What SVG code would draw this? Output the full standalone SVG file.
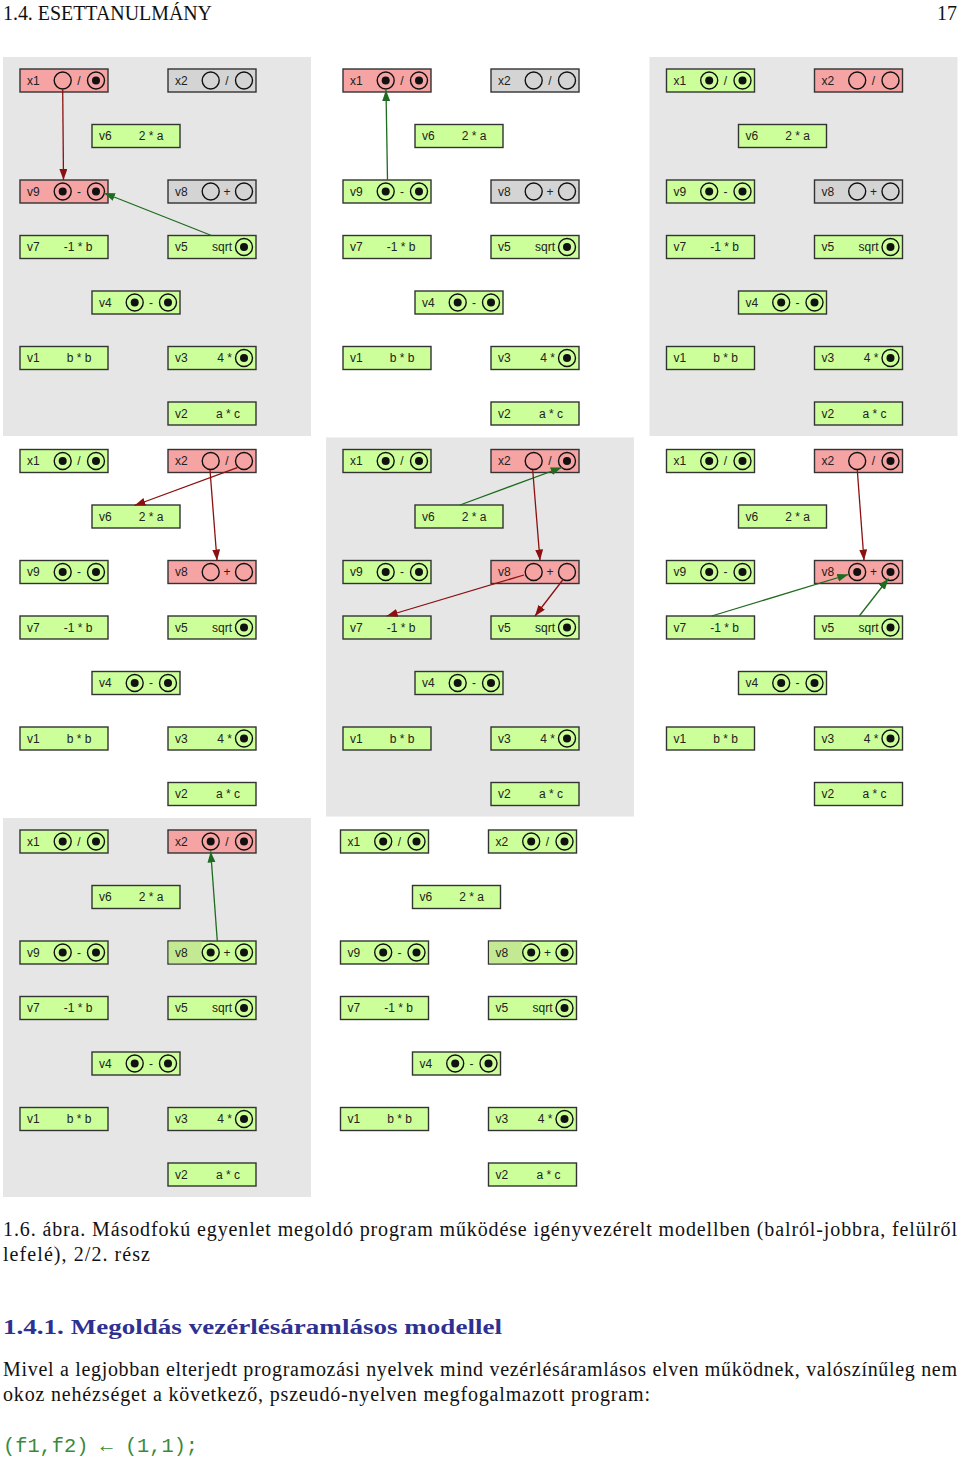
<svg xmlns="http://www.w3.org/2000/svg" xmlns:xlink="http://www.w3.org/1999/xlink" width="960" height="1462" viewBox="0 0 960 1462">
<style>
.bg{fill:#e6e6e6}
.nd rect{stroke:#333;stroke-width:1.4}
.nd .g{fill:#ccff99}
.nd .r{fill:#f5a3a3}
.nd .n{fill:#d4d4d4}
.nd .dk{fill:#c3e992;stroke:none}
.nd text{font-family:"Liberation Sans",Arial,Helvetica,sans-serif;font-size:12px;fill:#222}
.nd .m{text-anchor:middle}
.nd .e{text-anchor:end}
.ring{fill:none;stroke:#111;stroke-width:1.4}
.dot{fill:#111}
.cr{stroke:#8b1010;stroke-width:1.3;fill:none;marker-end:url(#ar)}
.cg{stroke:#1f6b1f;stroke-width:1.3;fill:none;marker-end:url(#ag)}
.body{font-family:"Liberation Serif","Times New Roman",serif;font-size:20px;fill:#111}
</style>
<defs>
<circle id="o" r="8.5" class="ring"/>
<g id="f"><circle r="8.5" class="ring"/><circle r="4" class="dot"/></g>
<marker id="ar" markerUnits="userSpaceOnUse" markerWidth="12" markerHeight="10" refX="11" refY="4" orient="auto"><path d="M0,0 L11,4 L0,8 Z" fill="#8b1010"/></marker>
<marker id="ag" markerUnits="userSpaceOnUse" markerWidth="12" markerHeight="10" refX="11" refY="4" orient="auto"><path d="M0,0 L11,4 L0,8 Z" fill="#1f6b1f"/></marker>
</defs>
<rect width="960" height="1462" fill="#fff"/>

<!-- Panel 1 -->
<g id="panel1">
<rect class="bg" x="3" y="57" width="308" height="379"/>
<g id="p1-x1" class="nd" transform="translate(20,69)"><rect class="r" width="88" height="23"/><text x="7" y="15.5">x1</text><use href="#o" x="42.7" y="11.5"/><text class="m" x="59" y="15.5">/</text><use href="#f" x="76" y="11.5"/></g>
<g id="p1-x2" class="nd" transform="translate(168,69)"><rect class="n" width="88" height="23"/><text x="7" y="15.5">x2</text><use href="#o" x="42.7" y="11.5"/><text class="m" x="59" y="15.5">/</text><use href="#o" x="76" y="11.5"/></g>
<g id="p1-v6" class="nd" transform="translate(92,124.5)"><rect class="g" width="88" height="23"/><text x="7" y="15.5">v6</text><text class="m" x="59" y="15.5">2 * a</text></g>
<g id="p1-v9" class="nd" transform="translate(20,180)"><rect class="r" width="88" height="23"/><text x="7" y="15.5">v9</text><use href="#f" x="42.7" y="11.5"/><text class="m" x="59" y="15.5">-</text><use href="#f" x="76" y="11.5"/></g>
<g id="p1-v8" class="nd" transform="translate(168,180)"><rect class="n" width="88" height="23"/><text x="7" y="15.5">v8</text><use href="#o" x="42.7" y="11.5"/><text class="m" x="59" y="15.5">+</text><use href="#o" x="76" y="11.5"/></g>
<g id="p1-v7" class="nd" transform="translate(20,235.5)"><rect class="g" width="88" height="23"/><text x="7" y="15.5">v7</text><text class="m" x="58" y="15.5">-1 * b</text></g>
<g id="p1-v5" class="nd" transform="translate(168,235.5)"><rect class="g" width="88" height="23"/><text x="7" y="15.5">v5</text><text class="e" x="64" y="15.5">sqrt</text><use href="#f" x="76" y="11.5"/></g>
<g id="p1-v4" class="nd" transform="translate(92,291)"><rect class="g" width="88" height="23"/><text x="7" y="15.5">v4</text><use href="#f" x="42.7" y="11.5"/><text class="m" x="59" y="15.5">-</text><use href="#f" x="76" y="11.5"/></g>
<g id="p1-v1" class="nd" transform="translate(20,346.5)"><rect class="g" width="88" height="23"/><text x="7" y="15.5">v1</text><text class="m" x="59" y="15.5">b * b</text></g>
<g id="p1-v3" class="nd" transform="translate(168,346.5)"><rect class="g" width="88" height="23"/><text x="7" y="15.5">v3</text><text class="e" x="64" y="15.5">4 *</text><use href="#f" x="76" y="11.5"/></g>
<g id="p1-v2" class="nd" transform="translate(168,402)"><rect class="g" width="88" height="23"/><text x="7" y="15.5">v2</text><text class="m" x="60" y="15.5">a * c</text></g>
</g>

<!-- Panel 2 -->
<g id="panel2" transform="translate(323,0)">
<g id="p2-x1" class="nd" transform="translate(20,69)"><rect class="r" width="88" height="23"/><text x="7" y="15.5">x1</text><use href="#f" x="42.7" y="11.5"/><text class="m" x="59" y="15.5">/</text><use href="#f" x="76" y="11.5"/></g>
<g id="p2-x2" class="nd" transform="translate(168,69)"><rect class="n" width="88" height="23"/><text x="7" y="15.5">x2</text><use href="#o" x="42.7" y="11.5"/><text class="m" x="59" y="15.5">/</text><use href="#o" x="76" y="11.5"/></g>
<g id="p2-v6" class="nd" transform="translate(92,124.5)"><rect class="g" width="88" height="23"/><text x="7" y="15.5">v6</text><text class="m" x="59" y="15.5">2 * a</text></g>
<g id="p2-v9" class="nd" transform="translate(20,180)"><rect class="g" width="88" height="23"/><text x="7" y="15.5">v9</text><use href="#f" x="42.7" y="11.5"/><text class="m" x="59" y="15.5">-</text><use href="#f" x="76" y="11.5"/></g>
<g id="p2-v8" class="nd" transform="translate(168,180)"><rect class="n" width="88" height="23"/><text x="7" y="15.5">v8</text><use href="#o" x="42.7" y="11.5"/><text class="m" x="59" y="15.5">+</text><use href="#o" x="76" y="11.5"/></g>
<g id="p2-v7" class="nd" transform="translate(20,235.5)"><rect class="g" width="88" height="23"/><text x="7" y="15.5">v7</text><text class="m" x="58" y="15.5">-1 * b</text></g>
<g id="p2-v5" class="nd" transform="translate(168,235.5)"><rect class="g" width="88" height="23"/><text x="7" y="15.5">v5</text><text class="e" x="64" y="15.5">sqrt</text><use href="#f" x="76" y="11.5"/></g>
<g id="p2-v4" class="nd" transform="translate(92,291)"><rect class="g" width="88" height="23"/><text x="7" y="15.5">v4</text><use href="#f" x="42.7" y="11.5"/><text class="m" x="59" y="15.5">-</text><use href="#f" x="76" y="11.5"/></g>
<g id="p2-v1" class="nd" transform="translate(20,346.5)"><rect class="g" width="88" height="23"/><text x="7" y="15.5">v1</text><text class="m" x="59" y="15.5">b * b</text></g>
<g id="p2-v3" class="nd" transform="translate(168,346.5)"><rect class="g" width="88" height="23"/><text x="7" y="15.5">v3</text><text class="e" x="64" y="15.5">4 *</text><use href="#f" x="76" y="11.5"/></g>
<g id="p2-v2" class="nd" transform="translate(168,402)"><rect class="g" width="88" height="23"/><text x="7" y="15.5">v2</text><text class="m" x="60" y="15.5">a * c</text></g>
</g>

<!-- Panel 3 -->
<g id="panel3" transform="translate(646.5,0)">
<rect class="bg" x="3" y="57" width="308" height="379"/>
<g id="p3-x1" class="nd" transform="translate(20,69)"><rect class="g" width="88" height="23"/><text x="7" y="15.5">x1</text><use href="#f" x="42.7" y="11.5"/><text class="m" x="59" y="15.5">/</text><use href="#f" x="76" y="11.5"/></g>
<g id="p3-x2" class="nd" transform="translate(168,69)"><rect class="r" width="88" height="23"/><text x="7" y="15.5">x2</text><use href="#o" x="42.7" y="11.5"/><text class="m" x="59" y="15.5">/</text><use href="#o" x="76" y="11.5"/></g>
<g id="p3-v6" class="nd" transform="translate(92,124.5)"><rect class="g" width="88" height="23"/><text x="7" y="15.5">v6</text><text class="m" x="59" y="15.5">2 * a</text></g>
<g id="p3-v9" class="nd" transform="translate(20,180)"><rect class="g" width="88" height="23"/><text x="7" y="15.5">v9</text><use href="#f" x="42.7" y="11.5"/><text class="m" x="59" y="15.5">-</text><use href="#f" x="76" y="11.5"/></g>
<g id="p3-v8" class="nd" transform="translate(168,180)"><rect class="n" width="88" height="23"/><text x="7" y="15.5">v8</text><use href="#o" x="42.7" y="11.5"/><text class="m" x="59" y="15.5">+</text><use href="#o" x="76" y="11.5"/></g>
<g id="p3-v7" class="nd" transform="translate(20,235.5)"><rect class="g" width="88" height="23"/><text x="7" y="15.5">v7</text><text class="m" x="58" y="15.5">-1 * b</text></g>
<g id="p3-v5" class="nd" transform="translate(168,235.5)"><rect class="g" width="88" height="23"/><text x="7" y="15.5">v5</text><text class="e" x="64" y="15.5">sqrt</text><use href="#f" x="76" y="11.5"/></g>
<g id="p3-v4" class="nd" transform="translate(92,291)"><rect class="g" width="88" height="23"/><text x="7" y="15.5">v4</text><use href="#f" x="42.7" y="11.5"/><text class="m" x="59" y="15.5">-</text><use href="#f" x="76" y="11.5"/></g>
<g id="p3-v1" class="nd" transform="translate(20,346.5)"><rect class="g" width="88" height="23"/><text x="7" y="15.5">v1</text><text class="m" x="59" y="15.5">b * b</text></g>
<g id="p3-v3" class="nd" transform="translate(168,346.5)"><rect class="g" width="88" height="23"/><text x="7" y="15.5">v3</text><text class="e" x="64" y="15.5">4 *</text><use href="#f" x="76" y="11.5"/></g>
<g id="p3-v2" class="nd" transform="translate(168,402)"><rect class="g" width="88" height="23"/><text x="7" y="15.5">v2</text><text class="m" x="60" y="15.5">a * c</text></g>
</g>

<!-- Panel 4 -->
<g id="panel4" transform="translate(0,380.5)">
<g id="p4-x1" class="nd" transform="translate(20,69)"><rect class="g" width="88" height="23"/><text x="7" y="15.5">x1</text><use href="#f" x="42.7" y="11.5"/><text class="m" x="59" y="15.5">/</text><use href="#f" x="76" y="11.5"/></g>
<g id="p4-x2" class="nd" transform="translate(168,69)"><rect class="r" width="88" height="23"/><text x="7" y="15.5">x2</text><use href="#o" x="42.7" y="11.5"/><text class="m" x="59" y="15.5">/</text><use href="#o" x="76" y="11.5"/></g>
<g id="p4-v6" class="nd" transform="translate(92,124.5)"><rect class="g" width="88" height="23"/><text x="7" y="15.5">v6</text><text class="m" x="59" y="15.5">2 * a</text></g>
<g id="p4-v9" class="nd" transform="translate(20,180)"><rect class="g" width="88" height="23"/><text x="7" y="15.5">v9</text><use href="#f" x="42.7" y="11.5"/><text class="m" x="59" y="15.5">-</text><use href="#f" x="76" y="11.5"/></g>
<g id="p4-v8" class="nd" transform="translate(168,180)"><rect class="r" width="88" height="23"/><text x="7" y="15.5">v8</text><use href="#o" x="42.7" y="11.5"/><text class="m" x="59" y="15.5">+</text><use href="#o" x="76" y="11.5"/></g>
<g id="p4-v7" class="nd" transform="translate(20,235.5)"><rect class="g" width="88" height="23"/><text x="7" y="15.5">v7</text><text class="m" x="58" y="15.5">-1 * b</text></g>
<g id="p4-v5" class="nd" transform="translate(168,235.5)"><rect class="g" width="88" height="23"/><text x="7" y="15.5">v5</text><text class="e" x="64" y="15.5">sqrt</text><use href="#f" x="76" y="11.5"/></g>
<g id="p4-v4" class="nd" transform="translate(92,291)"><rect class="g" width="88" height="23"/><text x="7" y="15.5">v4</text><use href="#f" x="42.7" y="11.5"/><text class="m" x="59" y="15.5">-</text><use href="#f" x="76" y="11.5"/></g>
<g id="p4-v1" class="nd" transform="translate(20,346.5)"><rect class="g" width="88" height="23"/><text x="7" y="15.5">v1</text><text class="m" x="59" y="15.5">b * b</text></g>
<g id="p4-v3" class="nd" transform="translate(168,346.5)"><rect class="g" width="88" height="23"/><text x="7" y="15.5">v3</text><text class="e" x="64" y="15.5">4 *</text><use href="#f" x="76" y="11.5"/></g>
<g id="p4-v2" class="nd" transform="translate(168,402)"><rect class="g" width="88" height="23"/><text x="7" y="15.5">v2</text><text class="m" x="60" y="15.5">a * c</text></g>
</g>

<!-- Panel 5 -->
<g id="panel5" transform="translate(323,380.5)">
<rect class="bg" x="3" y="57" width="308" height="379"/>
<g id="p5-x1" class="nd" transform="translate(20,69)"><rect class="g" width="88" height="23"/><text x="7" y="15.5">x1</text><use href="#f" x="42.7" y="11.5"/><text class="m" x="59" y="15.5">/</text><use href="#f" x="76" y="11.5"/></g>
<g id="p5-x2" class="nd" transform="translate(168,69)"><rect class="r" width="88" height="23"/><text x="7" y="15.5">x2</text><use href="#o" x="42.7" y="11.5"/><text class="m" x="59" y="15.5">/</text><use href="#f" x="76" y="11.5"/></g>
<g id="p5-v6" class="nd" transform="translate(92,124.5)"><rect class="g" width="88" height="23"/><text x="7" y="15.5">v6</text><text class="m" x="59" y="15.5">2 * a</text></g>
<g id="p5-v9" class="nd" transform="translate(20,180)"><rect class="g" width="88" height="23"/><text x="7" y="15.5">v9</text><use href="#f" x="42.7" y="11.5"/><text class="m" x="59" y="15.5">-</text><use href="#f" x="76" y="11.5"/></g>
<g id="p5-v8" class="nd" transform="translate(168,180)"><rect class="r" width="88" height="23"/><text x="7" y="15.5">v8</text><use href="#o" x="42.7" y="11.5"/><text class="m" x="59" y="15.5">+</text><use href="#o" x="76" y="11.5"/></g>
<g id="p5-v7" class="nd" transform="translate(20,235.5)"><rect class="g" width="88" height="23"/><text x="7" y="15.5">v7</text><text class="m" x="58" y="15.5">-1 * b</text></g>
<g id="p5-v5" class="nd" transform="translate(168,235.5)"><rect class="g" width="88" height="23"/><text x="7" y="15.5">v5</text><text class="e" x="64" y="15.5">sqrt</text><use href="#f" x="76" y="11.5"/></g>
<g id="p5-v4" class="nd" transform="translate(92,291)"><rect class="g" width="88" height="23"/><text x="7" y="15.5">v4</text><use href="#f" x="42.7" y="11.5"/><text class="m" x="59" y="15.5">-</text><use href="#f" x="76" y="11.5"/></g>
<g id="p5-v1" class="nd" transform="translate(20,346.5)"><rect class="g" width="88" height="23"/><text x="7" y="15.5">v1</text><text class="m" x="59" y="15.5">b * b</text></g>
<g id="p5-v3" class="nd" transform="translate(168,346.5)"><rect class="g" width="88" height="23"/><text x="7" y="15.5">v3</text><text class="e" x="64" y="15.5">4 *</text><use href="#f" x="76" y="11.5"/></g>
<g id="p5-v2" class="nd" transform="translate(168,402)"><rect class="g" width="88" height="23"/><text x="7" y="15.5">v2</text><text class="m" x="60" y="15.5">a * c</text></g>
</g>

<!-- Panel 6 -->
<g id="panel6" transform="translate(646.5,380.5)">
<g id="p6-x1" class="nd" transform="translate(20,69)"><rect class="g" width="88" height="23"/><text x="7" y="15.5">x1</text><use href="#f" x="42.7" y="11.5"/><text class="m" x="59" y="15.5">/</text><use href="#f" x="76" y="11.5"/></g>
<g id="p6-x2" class="nd" transform="translate(168,69)"><rect class="r" width="88" height="23"/><text x="7" y="15.5">x2</text><use href="#o" x="42.7" y="11.5"/><text class="m" x="59" y="15.5">/</text><use href="#f" x="76" y="11.5"/></g>
<g id="p6-v6" class="nd" transform="translate(92,124.5)"><rect class="g" width="88" height="23"/><text x="7" y="15.5">v6</text><text class="m" x="59" y="15.5">2 * a</text></g>
<g id="p6-v9" class="nd" transform="translate(20,180)"><rect class="g" width="88" height="23"/><text x="7" y="15.5">v9</text><use href="#f" x="42.7" y="11.5"/><text class="m" x="59" y="15.5">-</text><use href="#f" x="76" y="11.5"/></g>
<g id="p6-v8" class="nd" transform="translate(168,180)"><rect class="r" width="88" height="23"/><text x="7" y="15.5">v8</text><use href="#f" x="42.7" y="11.5"/><text class="m" x="59" y="15.5">+</text><use href="#f" x="76" y="11.5"/></g>
<g id="p6-v7" class="nd" transform="translate(20,235.5)"><rect class="g" width="88" height="23"/><text x="7" y="15.5">v7</text><text class="m" x="58" y="15.5">-1 * b</text></g>
<g id="p6-v5" class="nd" transform="translate(168,235.5)"><rect class="g" width="88" height="23"/><text x="7" y="15.5">v5</text><text class="e" x="64" y="15.5">sqrt</text><use href="#f" x="76" y="11.5"/></g>
<g id="p6-v4" class="nd" transform="translate(92,291)"><rect class="g" width="88" height="23"/><text x="7" y="15.5">v4</text><use href="#f" x="42.7" y="11.5"/><text class="m" x="59" y="15.5">-</text><use href="#f" x="76" y="11.5"/></g>
<g id="p6-v1" class="nd" transform="translate(20,346.5)"><rect class="g" width="88" height="23"/><text x="7" y="15.5">v1</text><text class="m" x="59" y="15.5">b * b</text></g>
<g id="p6-v3" class="nd" transform="translate(168,346.5)"><rect class="g" width="88" height="23"/><text x="7" y="15.5">v3</text><text class="e" x="64" y="15.5">4 *</text><use href="#f" x="76" y="11.5"/></g>
<g id="p6-v2" class="nd" transform="translate(168,402)"><rect class="g" width="88" height="23"/><text x="7" y="15.5">v2</text><text class="m" x="60" y="15.5">a * c</text></g>
</g>

<!-- Panel 7 -->
<g id="panel7" transform="translate(0,761)">
<rect class="bg" x="3" y="57" width="308" height="379"/>
<g id="p7-x1" class="nd" transform="translate(20,69)"><rect class="g" width="88" height="23"/><text x="7" y="15.5">x1</text><use href="#f" x="42.7" y="11.5"/><text class="m" x="59" y="15.5">/</text><use href="#f" x="76" y="11.5"/></g>
<g id="p7-x2" class="nd" transform="translate(168,69)"><rect class="r" width="88" height="23"/><text x="7" y="15.5">x2</text><use href="#f" x="42.7" y="11.5"/><text class="m" x="59" y="15.5">/</text><use href="#f" x="76" y="11.5"/></g>
<g id="p7-v6" class="nd" transform="translate(92,124.5)"><rect class="g" width="88" height="23"/><text x="7" y="15.5">v6</text><text class="m" x="59" y="15.5">2 * a</text></g>
<g id="p7-v9" class="nd" transform="translate(20,180)"><rect class="g" width="88" height="23"/><text x="7" y="15.5">v9</text><use href="#f" x="42.7" y="11.5"/><text class="m" x="59" y="15.5">-</text><use href="#f" x="76" y="11.5"/></g>
<g id="p7-v8" class="nd" transform="translate(168,180)"><rect class="g" width="88" height="23"/><rect class="dk" x="0.7" y="0.7" width="33" height="21.6"/><text x="7" y="15.5">v8</text><use href="#f" x="42.7" y="11.5"/><text class="m" x="59" y="15.5">+</text><use href="#f" x="76" y="11.5"/></g>
<g id="p7-v7" class="nd" transform="translate(20,235.5)"><rect class="g" width="88" height="23"/><text x="7" y="15.5">v7</text><text class="m" x="58" y="15.5">-1 * b</text></g>
<g id="p7-v5" class="nd" transform="translate(168,235.5)"><rect class="g" width="88" height="23"/><text x="7" y="15.5">v5</text><text class="e" x="64" y="15.5">sqrt</text><use href="#f" x="76" y="11.5"/></g>
<g id="p7-v4" class="nd" transform="translate(92,291)"><rect class="g" width="88" height="23"/><text x="7" y="15.5">v4</text><use href="#f" x="42.7" y="11.5"/><text class="m" x="59" y="15.5">-</text><use href="#f" x="76" y="11.5"/></g>
<g id="p7-v1" class="nd" transform="translate(20,346.5)"><rect class="g" width="88" height="23"/><text x="7" y="15.5">v1</text><text class="m" x="59" y="15.5">b * b</text></g>
<g id="p7-v3" class="nd" transform="translate(168,346.5)"><rect class="g" width="88" height="23"/><text x="7" y="15.5">v3</text><text class="e" x="64" y="15.5">4 *</text><use href="#f" x="76" y="11.5"/></g>
<g id="p7-v2" class="nd" transform="translate(168,402)"><rect class="g" width="88" height="23"/><text x="7" y="15.5">v2</text><text class="m" x="60" y="15.5">a * c</text></g>
</g>

<!-- Panel 8 -->
<g id="panel8" transform="translate(320.5,761)">
<g id="p8-x1" class="nd" transform="translate(20,69)"><rect class="g" width="88" height="23"/><text x="7" y="15.5">x1</text><use href="#f" x="42.7" y="11.5"/><text class="m" x="59" y="15.5">/</text><use href="#f" x="76" y="11.5"/></g>
<g id="p8-x2" class="nd" transform="translate(168,69)"><rect class="g" width="88" height="23"/><text x="7" y="15.5">x2</text><use href="#f" x="42.7" y="11.5"/><text class="m" x="59" y="15.5">/</text><use href="#f" x="76" y="11.5"/></g>
<g id="p8-v6" class="nd" transform="translate(92,124.5)"><rect class="g" width="88" height="23"/><text x="7" y="15.5">v6</text><text class="m" x="59" y="15.5">2 * a</text></g>
<g id="p8-v9" class="nd" transform="translate(20,180)"><rect class="g" width="88" height="23"/><text x="7" y="15.5">v9</text><use href="#f" x="42.7" y="11.5"/><text class="m" x="59" y="15.5">-</text><use href="#f" x="76" y="11.5"/></g>
<g id="p8-v8" class="nd" transform="translate(168,180)"><rect class="g" width="88" height="23"/><rect class="dk" x="0.7" y="0.7" width="33" height="21.6"/><text x="7" y="15.5">v8</text><use href="#f" x="42.7" y="11.5"/><text class="m" x="59" y="15.5">+</text><use href="#f" x="76" y="11.5"/></g>
<g id="p8-v7" class="nd" transform="translate(20,235.5)"><rect class="g" width="88" height="23"/><text x="7" y="15.5">v7</text><text class="m" x="58" y="15.5">-1 * b</text></g>
<g id="p8-v5" class="nd" transform="translate(168,235.5)"><rect class="g" width="88" height="23"/><text x="7" y="15.5">v5</text><text class="e" x="64" y="15.5">sqrt</text><use href="#f" x="76" y="11.5"/></g>
<g id="p8-v4" class="nd" transform="translate(92,291)"><rect class="g" width="88" height="23"/><text x="7" y="15.5">v4</text><use href="#f" x="42.7" y="11.5"/><text class="m" x="59" y="15.5">-</text><use href="#f" x="76" y="11.5"/></g>
<g id="p8-v1" class="nd" transform="translate(20,346.5)"><rect class="g" width="88" height="23"/><text x="7" y="15.5">v1</text><text class="m" x="59" y="15.5">b * b</text></g>
<g id="p8-v3" class="nd" transform="translate(168,346.5)"><rect class="g" width="88" height="23"/><text x="7" y="15.5">v3</text><text class="e" x="64" y="15.5">4 *</text><use href="#f" x="76" y="11.5"/></g>
<g id="p8-v2" class="nd" transform="translate(168,402)"><rect class="g" width="88" height="23"/><text x="7" y="15.5">v2</text><text class="m" x="60" y="15.5">a * c</text></g>
</g>

<!-- Connectors -->
<g id="connectors">
<line class="cr" x1="62.7" y1="89.5" x2="63.5" y2="180"/>
<line class="cg" x1="211.5" y1="235.5" x2="104" y2="193"/>
<line class="cg" x1="387.5" y1="180" x2="386" y2="90"/>
<line class="cr" x1="237.3" y1="467.7" x2="134.5" y2="505.5"/>
<line class="cr" x1="210" y1="470" x2="217" y2="560.5"/>
<line class="cg" x1="460" y1="505" x2="561.7" y2="467.5"/>
<line class="cr" x1="532.7" y1="470" x2="540" y2="560.5"/>
<line class="cr" x1="524" y1="575" x2="386.7" y2="616"/>
<line class="cr" x1="562.7" y1="580" x2="535" y2="616"/>
<line class="cr" x1="857.3" y1="470" x2="864" y2="560.5"/>
<line class="cg" x1="711.7" y1="616" x2="848.3" y2="574.5"/>
<line class="cg" x1="859.3" y1="616" x2="888.5" y2="578.5"/>
<line class="cg" x1="217.3" y1="941" x2="210.7" y2="851.5"/>
</g>

<!-- Page text -->
<g id="page-text">
<text class="body" x="3" y="20" font-size="19" textLength="209" lengthAdjust="spacingAndGlyphs">1.4.  ESETTANULMÁNY</text>
<text class="body" x="957" y="20" font-size="19" text-anchor="end">17</text>
<text class="body" x="3" y="1236" textLength="954" lengthAdjust="spacing">1.6. ábra. Másodfokú egyenlet megoldó program működése igényvezérelt modellben (balról-jobbra, felülről</text>
<text class="body" x="3" y="1261" textLength="147" lengthAdjust="spacing">lefelé), 2/2. rész</text>
<text class="body" x="3" y="1334" font-size="24" font-weight="bold" style="fill:#2e3192" textLength="499" lengthAdjust="spacingAndGlyphs">1.4.1.  Megoldás vezérlésáramlásos modellel</text>
<text class="body" x="3" y="1376" textLength="954" lengthAdjust="spacing">Mivel a legjobban elterjedt programozási nyelvek mind vezérlésáramlásos elven működnek, valószínűleg nem</text>
<text class="body" x="3" y="1401" textLength="647" lengthAdjust="spacing">okoz nehézséget a következő, pszeudó-nyelven megfogalmazott program:</text>
<text x="3" y="1452" font-family="'Liberation Mono','DejaVu Sans Mono',monospace" font-size="20" fill="#3a8a3a" textLength="195" lengthAdjust="spacingAndGlyphs">(f1,f2) ← (1,1);</text>
</g>
</svg>
